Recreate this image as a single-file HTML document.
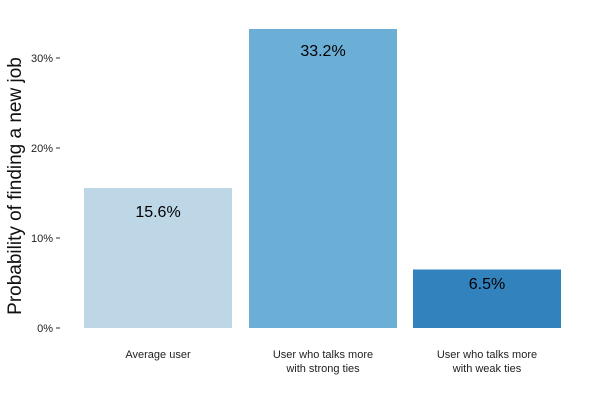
<!DOCTYPE html>
<html><head><meta charset="utf-8"><style>
html,body{margin:0;padding:0;background:#fff;}
svg{display:block;font-family:"Liberation Sans",Arial,sans-serif;}
</style></head><body>
<svg width="600" height="400" viewBox="0 0 600 400" xmlns="http://www.w3.org/2000/svg">
<rect width="600" height="400" fill="#fff"/>
<rect x="84" y="188" width="148" height="140" fill="#bdd7e7"/>
<rect x="249" y="29" width="148" height="299" fill="#6baed6"/>
<rect x="413" y="269.5" width="148" height="58.5" fill="#3182bd"/>
<g stroke="#333" stroke-width="1">
<line x1="56" y1="328" x2="60" y2="328"/>
<line x1="56" y1="238" x2="60" y2="238"/>
<line x1="56" y1="148" x2="60" y2="148"/>
<line x1="56" y1="58" x2="60" y2="58"/>
</g>
<g font-size="11" fill="#222" text-anchor="end">
<text x="53" y="332">0%</text>
<text x="53" y="242">10%</text>
<text x="53" y="152">20%</text>
<text x="53" y="62">30%</text>
</g>
<text transform="translate(21,186) rotate(-90)" text-anchor="middle" font-size="19" fill="#111">Probability of finding a new job</text>
<g font-size="16" fill="#000" text-anchor="middle">
<text x="158" y="217">15.6%</text>
<text x="323" y="56">33.2%</text>
<text x="487" y="289">6.5%</text>
</g>
<g font-size="11" fill="#222" text-anchor="middle">
<text x="158" y="358">Average user</text>
<text x="323" y="358">User who talks more</text>
<text x="323" y="372">with strong ties</text>
<text x="487" y="358">User who talks more</text>
<text x="487" y="372">with weak ties</text>
</g>
</svg>
</body></html>
